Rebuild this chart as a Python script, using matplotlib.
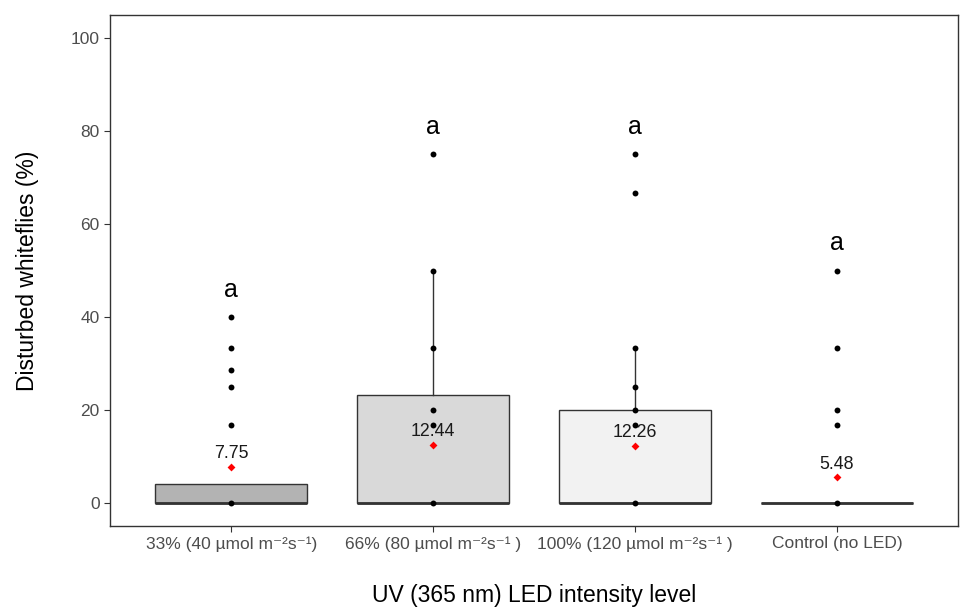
import matplotlib
matplotlib.use("Agg")
import matplotlib.pyplot as plt
import numpy as np

plt.rcParams['font.family'] = ['Liberation Sans', 'DejaVu Sans']

# groups on the x axis
groups = ["33% (40 \u00b5mol m\u207b\u00b2s\u207b\u00b9)",
          "66% (80 \u00b5mol m\u207b\u00b2s\u207b\u00b9 )",
          "100% (120 \u00b5mol m\u207b\u00b2s\u207b\u00b9 )",
          "Control (no LED)"]

# box statistics
q1 = [0, 0, 0, 0]
med = [0, 0, 0, 0]
q3 = [4.1, 23.3, 20.0, 0]
whi_lo = [0, 0, 0, 0]
whi_hi = [4.1, 50.0, 33.3, 0]
fills = ["#b3b3b3", "#d9d9d9", "#f2f2f2", "#ffffff"]

# observations drawn as points
pts = [
    [0, 16.7, 25.0, 28.6, 33.3, 40.0],
    [0, 16.7, 20.0, 33.3, 50.0, 75.0],
    [0, 16.7, 20.0, 25.0, 33.3, 66.7, 75.0],
    [0, 16.7, 20.0, 33.3, 50.0],
]

means = [7.75, 12.44, 12.26, 5.48]
letters = ["a", "a", "a", "a"]

fig = plt.figure(figsize=(9.61, 6.09), dpi=100)
ax = fig.add_axes([110 / 961, 1 - 526 / 609, (958 - 110) / 961, (526 - 15) / 609])

pos = np.arange(1, len(groups) + 1)
stats = []
for i in range(len(groups)):
    stats.append(dict(med=med[i], q1=q1[i], q3=q3[i], whislo=whi_lo[i],
                      whishi=whi_hi[i], fliers=[]))
bp = ax.bxp(stats, positions=pos, widths=0.75, patch_artist=True,
            showcaps=False,
            boxprops=dict(edgecolor="#333333", linewidth=1.0),
            medianprops=dict(color="#333333", linewidth=2.0),
            whiskerprops=dict(color="#333333", linewidth=1.0))
for patch, c in zip(bp['boxes'], fills):
    patch.set_facecolor(c)

for i, vals in enumerate(pts):
    ax.scatter(np.full(len(vals), pos[i]), vals, s=18, color="black", zorder=3,
               linewidths=0)

ax.scatter(pos, means, marker="D", s=16, color="red", zorder=4, linewidths=0)
for i in range(len(groups)):
    ax.text(pos[i], means[i] + 1.0, "%.2f" % means[i], ha="center", va="bottom",
            fontsize=12.8, color="#1a1a1a", zorder=5)
    ax.text(pos[i], max(pts[i]) + 3.3, letters[i], ha="center", va="bottom",
            fontsize=18, color="black")

ax.set_xlim(0.4, 4.6)
ax.set_ylim(-5, 105)
ax.set_yticks([0, 20, 40, 60, 80, 100])
ax.set_xticks(pos)
ax.set_xticklabels(groups)
ax.tick_params(axis="both", colors="#333333", labelcolor="#4d4d4d",
               labelsize=12.5, length=4, width=0.8)
for sp in ax.spines.values():
    sp.set_color("#333333")
    sp.set_linewidth(1.0)

ax.set_xlabel("UV (365 nm) LED intensity level", fontsize=16.5, labelpad=23)
ax.set_ylabel("Disturbed whiteflies (%)", fontsize=16.5)
ax.yaxis.set_label_coords(-0.084, 0.5)

fig.savefig("out.png", dpi=100)
